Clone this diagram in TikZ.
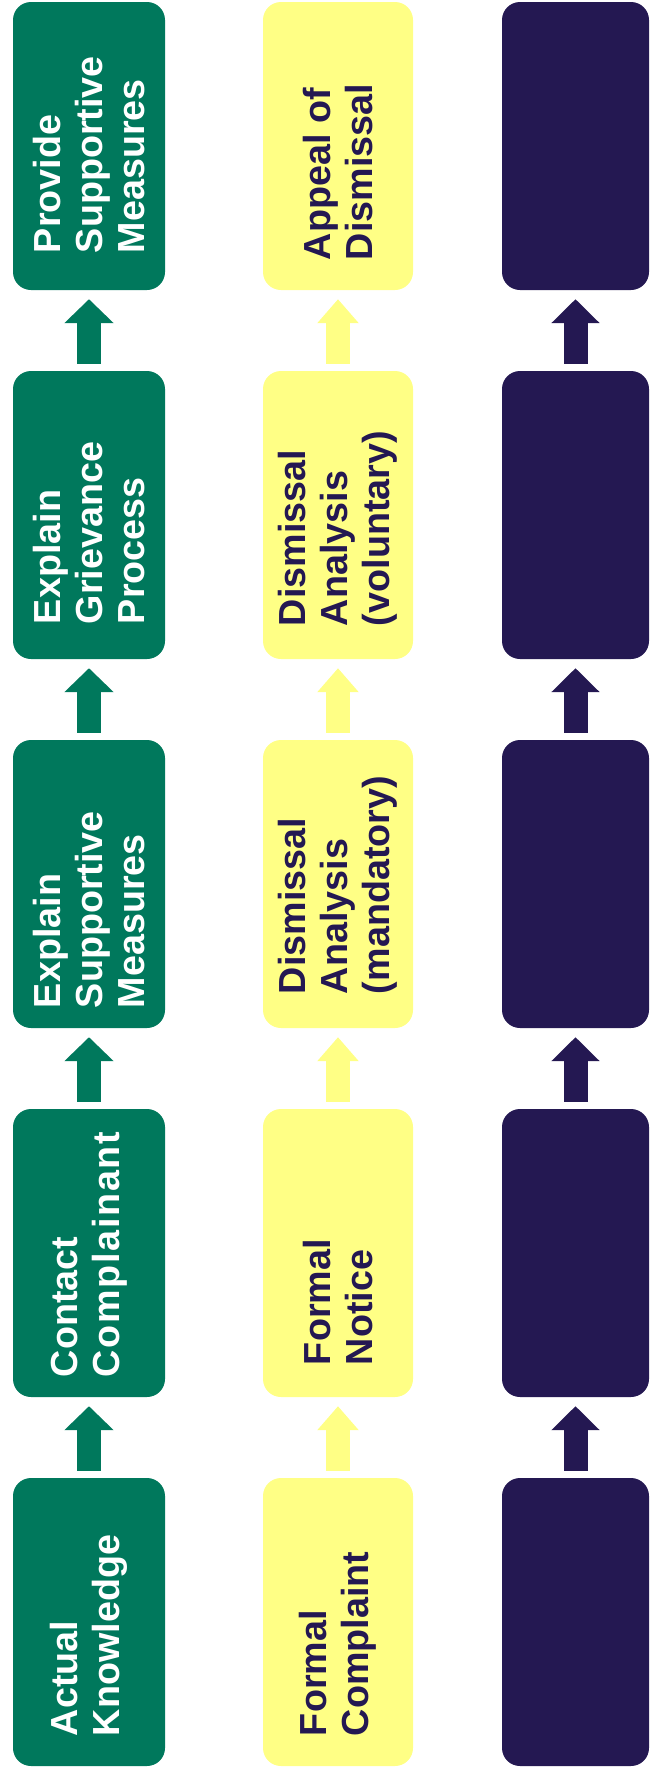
\documentclass[tikz,border=0pt]{standalone}
\usepackage{fontspec}
\setmainfont{Liberation Sans}
\newfontfamily\spreadfont[LetterSpace=4.5]{Liberation Sans}
\usetikzlibrary{arrows.meta}
\definecolor{stepgreen}{RGB}{0,120,92}
\definecolor{stepyellow}{RGB}{255,255,133}
\definecolor{stepnavy}{RGB}{36,24,82}
\tikzset{
  stepbox/.style={inner sep=0pt, minimum height=288pt, rounded corners=18pt},
  greenbox/.style={stepbox, fill=stepgreen, minimum width=152pt},
  yellowbox/.style={stepbox, fill=stepyellow, minimum width=150pt},
  navybox/.style={stepbox, fill=stepnavy, minimum width=147pt},
  steplabel/.style={rotate=90, anchor=west, align=left, inner sep=0pt,
    font=\bfseries\fontsize{37.7pt}{42pt}\selectfont},
  greenlabel/.style={steplabel, text=white},
  yellowlabel/.style={steplabel, text=stepnavy},
  flowarrow/.style={line width=24pt, shorten <=7pt, shorten >=9pt},
  greenarrow/.style={flowarrow, draw=stepgreen, -{Triangle[length=24pt, width=48pt]}},
  yellowarrow/.style={flowarrow, draw=stepyellow, -{Triangle[length=24pt, width=40pt]}},
  navyarrow/.style={flowarrow, draw=stepnavy, -{Triangle[length=24pt, width=47pt]}},
}

\begin{document}
\begin{tikzpicture}[x=1pt, y=-1pt]
\useasboundingbox (0,0) rectangle (650,1775);
% green column
\node[greenbox] (g0) at (89,146) {};
\node[greenbox] (g1) at (89,515) {};
\node[greenbox] (g2) at (89,884) {};
\node[greenbox] (g3) at (89,1253) {};
\node[greenbox] (g4) at (89,1622) {};
\node[greenlabel] (g0t) at ([yshift=37pt]g0.south) {Provide\\Supportive\\Measures};
\node[greenlabel] (g1t) at ([yshift=35pt]g1.south) {Explain\\Grievance\\Process};
\node[greenlabel] (g2t) at ([yshift=20pt]g2.south) {Explain\\Supportive\\Measures};
\node[greenlabel] (g3t) at ([yshift=20pt]g3.south) {Contact\\{\spreadfont Complainant}};
\node[greenlabel] (g4t) at ([yshift=30pt]g4.south) {Actual\\Knowledge};
\draw[greenarrow] (g4) -- (g3);
\draw[greenarrow] (g3) -- (g2);
\draw[greenarrow] (g2) -- (g1);
\draw[greenarrow] (g1) -- (g0);
% yellow column
\node[yellowbox] (y0) at (338,146) {};
\node[yellowbox] (y1) at (338,515) {};
\node[yellowbox] (y2) at (338,884) {};
\node[yellowbox] (y3) at (338,1253) {};
\node[yellowbox] (y4) at (338,1622) {};
\node[yellowlabel] (y0t) at ([yshift=30pt]y0.south) {Appeal of\\Dismissal};
\node[yellowlabel] (y1t) at ([yshift=33pt]y1.south) {Dismissal\\Analysis\\(voluntary)};
\node[yellowlabel] (y2t) at ([yshift=34pt]y2.south) {Dismissal\\Analysis\\(mandatory)};
\node[yellowlabel] (y3t) at ([yshift=32pt]y3.south) {Formal\\Notice};
\node[yellowlabel] (y4t) at ([yshift=30pt]y4.south) {Formal\\Complaint};
\draw[yellowarrow] (y4) -- (y3);
\draw[yellowarrow] (y3) -- (y2);
\draw[yellowarrow] (y2) -- (y1);
\draw[yellowarrow] (y1) -- (y0);
% navy column
\node[navybox] (n0) at (575.5,146) {};
\node[navybox] (n1) at (575.5,515) {};
\node[navybox] (n2) at (575.5,884) {};
\node[navybox] (n3) at (575.5,1253) {};
\node[navybox] (n4) at (575.5,1622) {};
\draw[navyarrow] (n4) -- (n3);
\draw[navyarrow] (n3) -- (n2);
\draw[navyarrow] (n2) -- (n1);
\draw[navyarrow] (n1) -- (n0);
\end{tikzpicture}
\end{document}
